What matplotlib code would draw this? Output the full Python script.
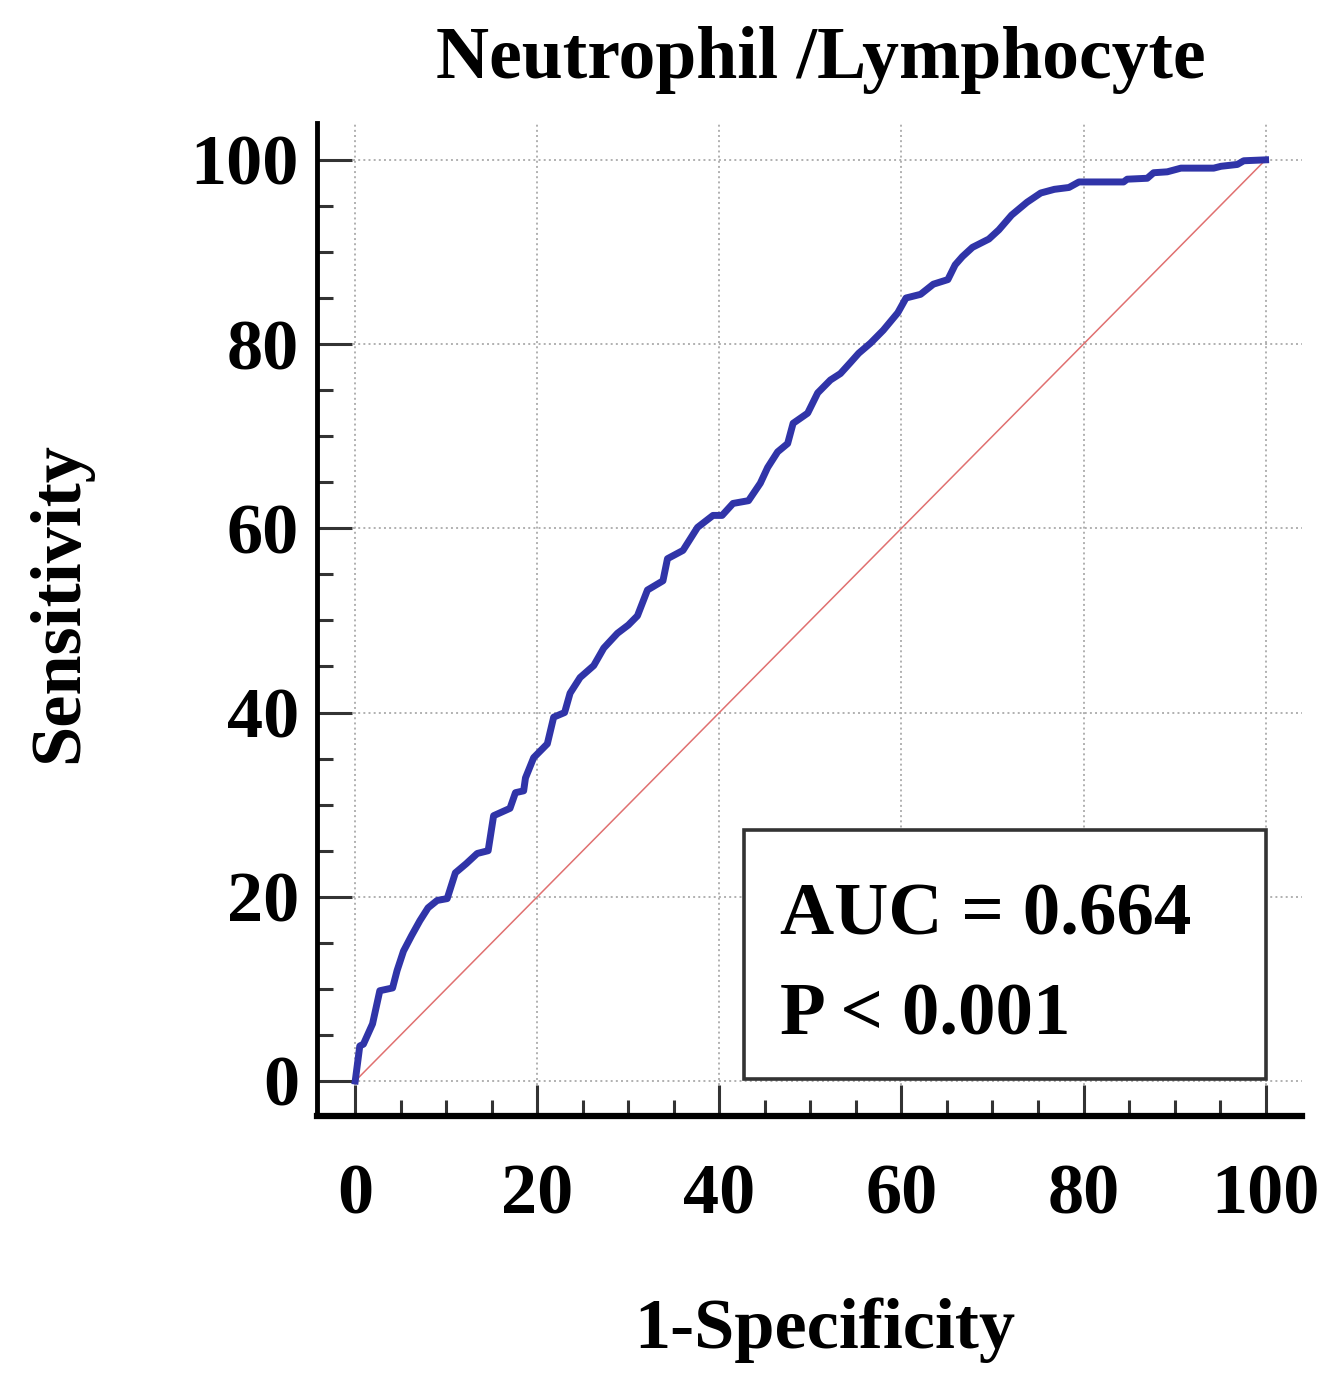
import matplotlib
matplotlib.use('Agg')
import matplotlib.pyplot as plt
from matplotlib.patches import Rectangle
from matplotlib.ticker import MultipleLocator

plt.rcParams['font.family'] = 'Liberation Serif'
plt.rcParams['font.weight'] = 'bold'

# ROC curve (1-Specificity, Sensitivity), in %
fpr = [0, 0.5, 0.9, 1.9, 2.7, 4.1, 4.6, 5.3, 6.2, 7.1, 8.0, 9.0, 10.1, 11.0,
       12.2, 13.4, 14.6, 15.2, 17.0, 17.6, 18.5, 18.7, 19.6, 21.1, 21.8, 23.0,
       23.6, 24.7, 26.2, 27.3, 28.8, 30.0, 31.0, 32.1, 33.8, 34.3, 36.0, 37.6,
       39.3, 40.3, 41.5, 43.2, 44.5, 45.3, 46.4, 47.5, 48.1, 49.7, 50.8, 52.2,
       53.3, 54.4, 55.3, 56.6, 58.0, 59.6, 60.5, 62.1, 63.5, 65.1, 65.9, 66.7,
       67.8, 69.6, 70.7, 72.1, 73.8, 75.3, 76.8, 78.4, 79.5, 84.4, 84.8, 87.0,
       87.7, 89.2, 90.7, 94.3, 95.1, 96.9, 97.6, 100]
tpr = [0, 3.8, 4.0, 6.2, 9.8, 10.1, 12.0, 14.1, 15.8, 17.4, 18.8, 19.6, 19.8, 22.6,
       23.6, 24.7, 25.0, 28.8, 29.6, 31.3, 31.5, 32.9, 35.1, 36.6, 39.5, 40.0,
       42.1, 43.8, 45.1, 47.0, 48.6, 49.5, 50.5, 53.3, 54.3, 56.7, 57.6, 60.1,
       61.4, 61.4, 62.7, 63.0, 64.9, 66.6, 68.3, 69.2, 71.4, 72.5, 74.7, 76.1,
       76.8, 78.0, 79.0, 80.1, 81.5, 83.4, 85.0, 85.4, 86.5, 87.0, 88.6, 89.5,
       90.5, 91.4, 92.4, 94.0, 95.4, 96.4, 96.8, 97.0, 97.6, 97.6, 97.9, 98.0,
       98.6, 98.7, 99.1, 99.1, 99.3, 99.5, 99.9, 100]

ref_line = [0, 100]
ticks = [0, 20, 40, 60, 80, 100]
auc_text = 'AUC = 0.664'
p_text = 'P < 0.001'

fig = plt.figure(figsize=(13.39, 13.9), dpi=100)
ax = fig.add_axes([317 / 1339, 1 - 1116 / 1390, 985 / 1339, 993 / 1390])

ax.plot(ref_line, ref_line, color='#e07070', linewidth=1.1, zorder=2)
ax.plot(fpr, tpr, color='#3034a8', linewidth=5, zorder=3)

ax.set_xlim(-4.2, 104)
ax.set_ylim(-3.8, 104)
ax.set_xticks(ticks)
ax.set_yticks(ticks)
ax.xaxis.set_minor_locator(MultipleLocator(5))
ax.yaxis.set_minor_locator(MultipleLocator(5))
ax.grid(True, which='major', linestyle=':', color='#b0b0b0', linewidth=1.4, zorder=0)

for side in ['top', 'right']:
    ax.spines[side].set_visible(False)
ax.spines['left'].set_linewidth(3.5)
ax.spines['bottom'].set_linewidth(4.5)

ax.tick_params(axis='both', which='both', direction='in', color='#333333', width=2.2,
               labelsize=52)
ax.tick_params(axis='x', which='major', length=22, pad=34)
ax.tick_params(axis='y', which='major', length=25.5, pad=13)
ax.tick_params(axis='both', which='minor', length=11.5)

ax.set_xlabel('1-Specificity', fontsize=52, fontweight='bold')
ax.xaxis.label.set_va('baseline')
ax.xaxis.set_label_coords(0.516, -0.2336)
ax.set_ylabel('Sensitivity', fontsize=52, fontweight='bold')
ax.yaxis.label.set_va('baseline')
ax.yaxis.set_label_coords(-0.2437, 0.5176)
ax.set_title('Neutrophil /Lymphocyte', fontsize=53, fontweight='bold',
             x=0.511, y=1.0453, pad=0)

# AUC box
ax.add_patch(Rectangle((42.7, 0.2), 57.4, 27.0, fill=True, facecolor='white',
                       edgecolor='#333333', linewidth=2.6, zorder=4))
ax.text(46.7, 15.9, auc_text, fontsize=54, fontweight='bold', va='baseline', zorder=5)
ax.text(46.7, 5.0, p_text, fontsize=54, fontweight='bold', va='baseline', zorder=5)

fig.savefig('out.png', dpi=100, facecolor='white')
